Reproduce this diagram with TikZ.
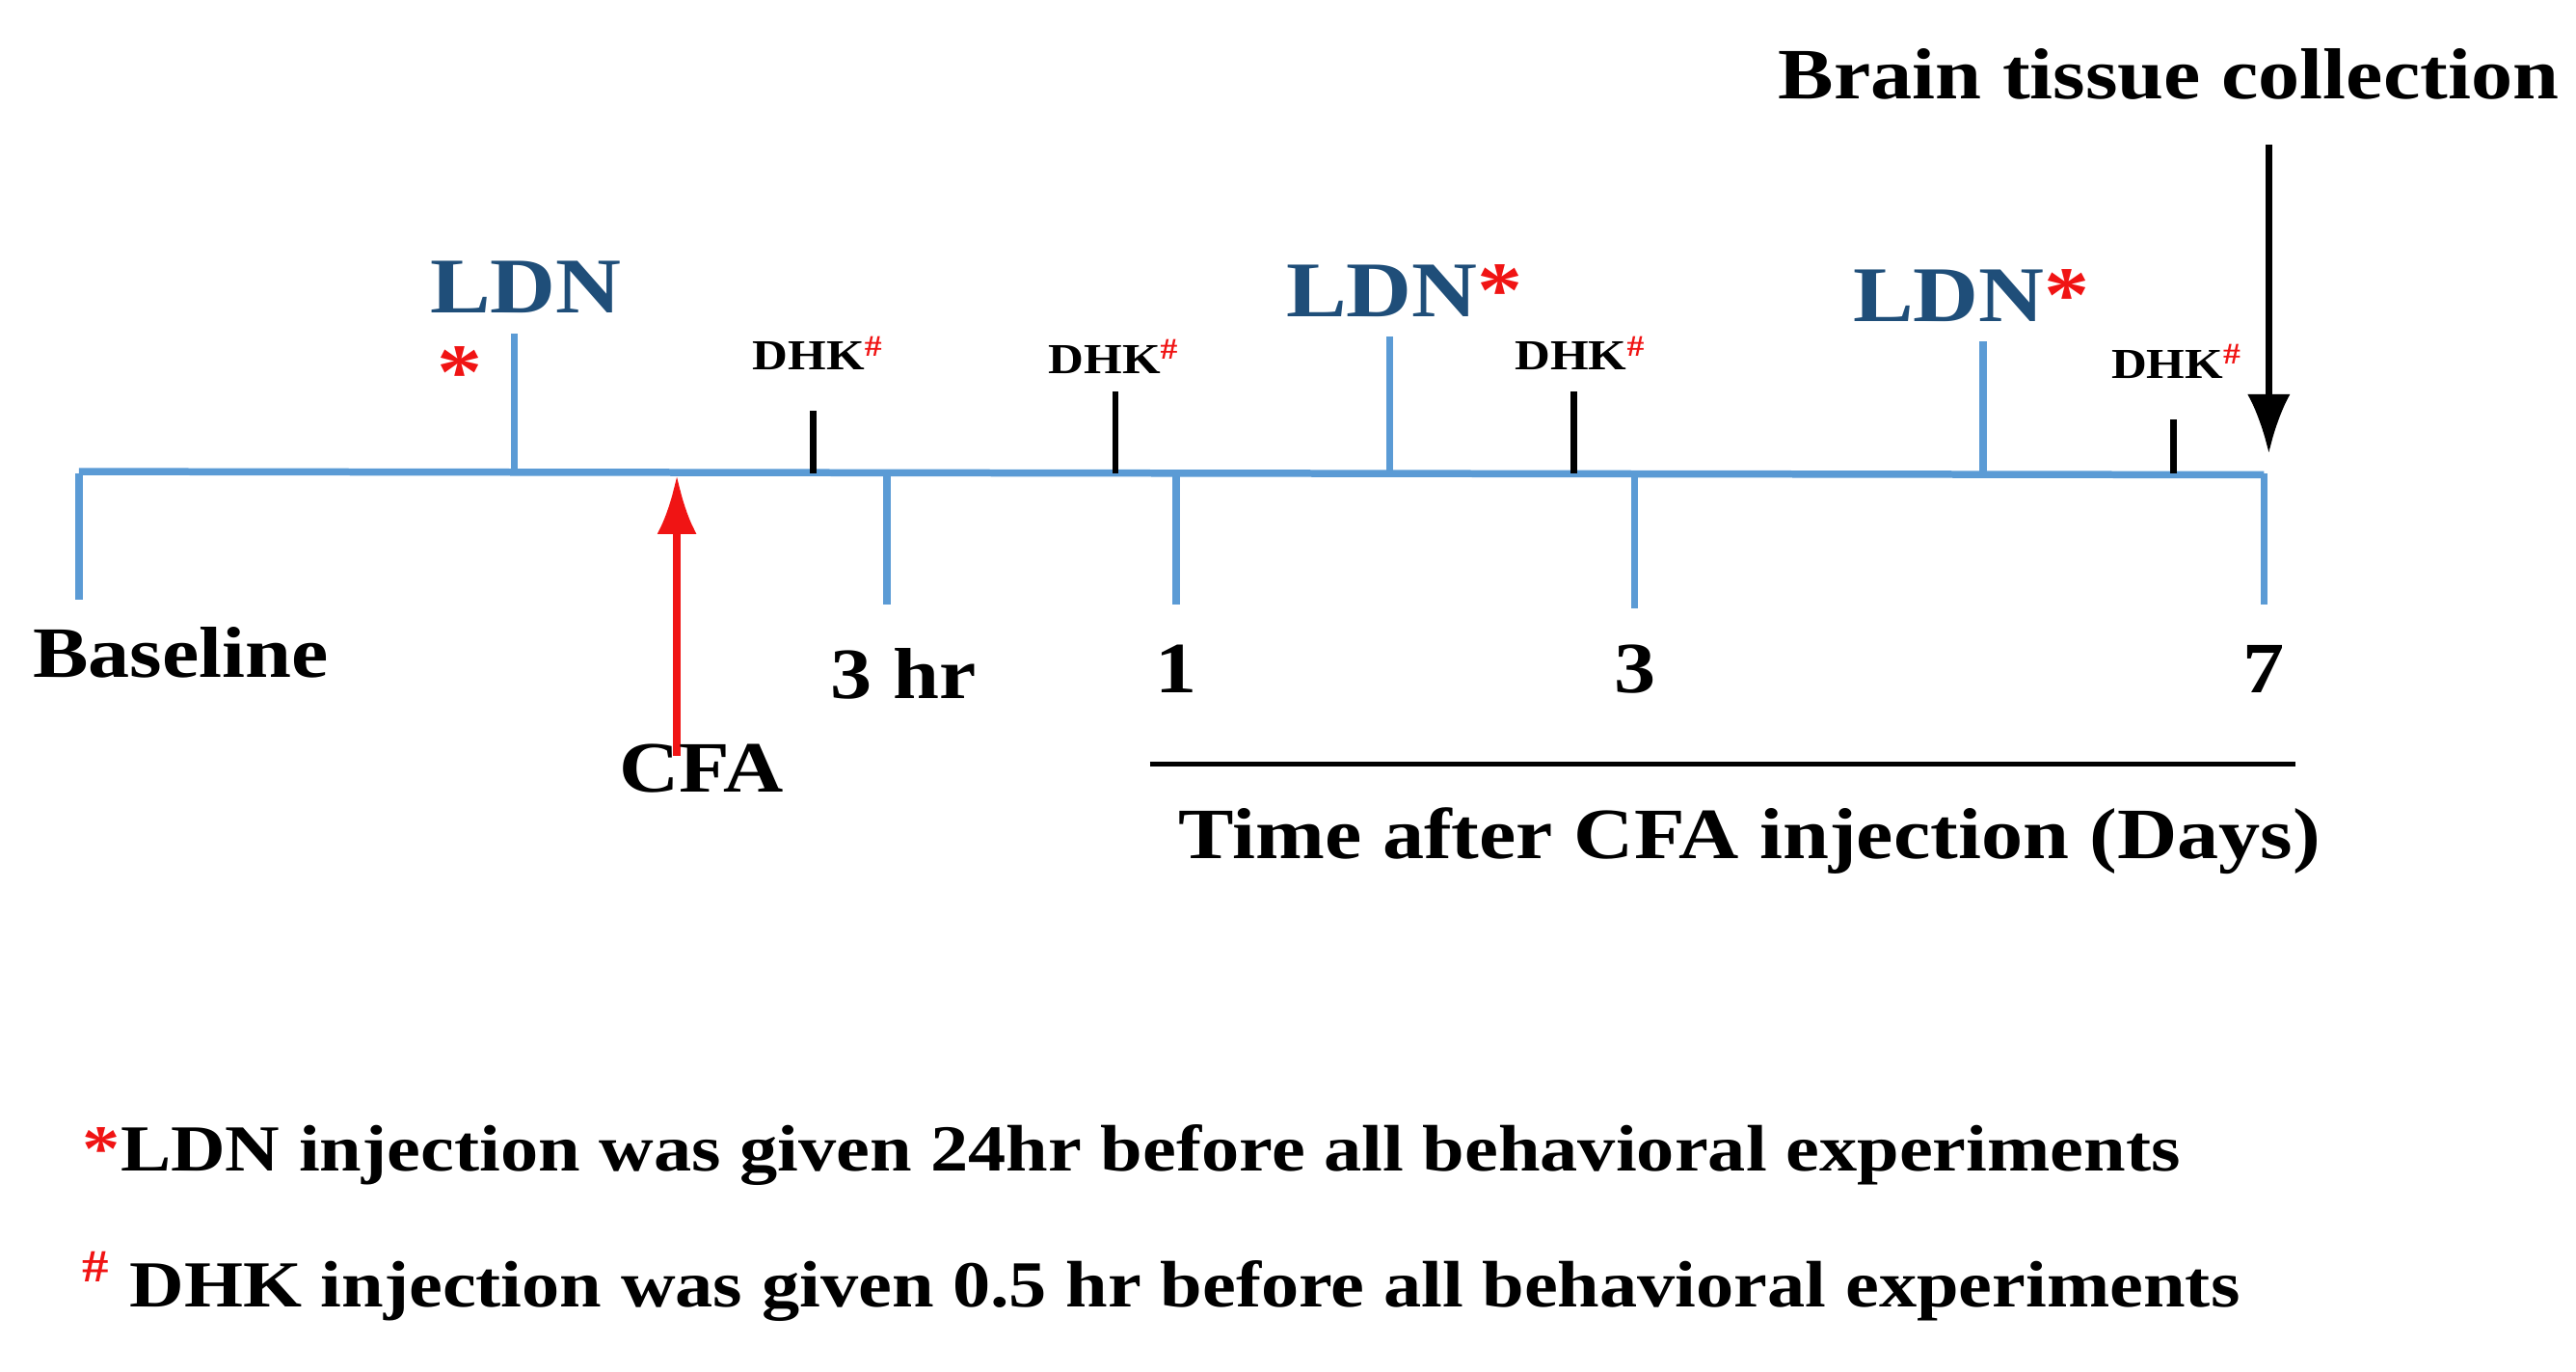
\documentclass[tikz,border=0pt]{standalone}
\usepackage{fontspec}
\usetikzlibrary{arrows.meta}
\setmainfont[FakeStretch=1.15]{Liberation Serif}
\definecolor{lblue}{RGB}{91,155,213}
\definecolor{dblue}{RGB}{31,78,121}
\definecolor{myred}{RGB}{240,20,20}
\begin{document}
\begin{tikzpicture}[x=0.5pt,y=-0.5pt,
  tl/.style={draw=lblue,line width=2.2pt},
  bk/.style={draw=black,line width=2pt},
  lab/.style={font=\bfseries\fontsize{22}{24}\selectfont,inner sep=0pt},
  ldn/.style={font=\bfseries\fontsize{24}{26}\selectfont,text=dblue,inner sep=0pt},
  dhk/.style={font=\bfseries\fontsize{13}{15}\selectfont,inner sep=0pt},
  foot/.style={font=\bfseries\fontsize{20}{22}\selectfont,inner sep=0pt,anchor=west}]
\useasboundingbox (0,0) rectangle (1568,835);
% timeline
\coordinate (L) at (48,287); \coordinate (R) at (1378,289);
\draw[tl] (L) -- (R);
\foreach \x/\y in {48/365,540/368,716/368,995/370,1378/368}{
  \draw[tl] (\x,288) -- (\x,\y);}
\foreach \x/\y in {313/203,846/205,1207/208}{
  \draw[tl] (\x,288) -- (\x,\y);}
\foreach \x/\y in {495/250,679/238,958/238,1323/255}{
  \draw[bk] (\x,288) -- (\x,\y);}
% arrows
\coordinate (cfaA) at (412,460); \coordinate (cfaB) at (412,289);
\draw[draw=myred,line width=2.5pt,-{Latex[length=18pt,width=12pt]}] (cfaA) -- (cfaB);
\coordinate (btA) at (1381,88); \coordinate (btB) at (1381,276);
\draw[bk,-{Latex[length=18pt,width=13pt]}] (btA) -- (btB);
% labels
\node[lab] (bt) at (1320,45) {Brain tissue collection};
\node[ldn] (l1) at (320,175) {LDN};
\node[ldn,text=myred] (s1) at (280,227) {*};
\node[ldn] (l2) at (855,177) {LDN\textcolor{myred}{*}};
\node[ldn] (l3) at (1200,180) {LDN\textcolor{myred}{*}};
\node[dhk] (d1) at (498,215) {DHK\textsuperscript{\textcolor{myred}{\#}}};
\node[dhk] (d2) at (678,217) {DHK\textsuperscript{\textcolor{myred}{\#}}};
\node[dhk] (d3) at (962,215) {DHK\textsuperscript{\textcolor{myred}{\#}}};
\node[dhk] (d4) at (1325,220) {DHK\textsuperscript{\textcolor{myred}{\#}}};
\node[lab] (b) at (110,397) {Baseline};
\node[lab] (h3) at (550,410) {3 hr};
\node[lab] (t1) at (716,407) {1};
\node[lab] (t3) at (995,407) {3};
\node[lab] (t7) at (1378,407) {7};
\node[lab] (cfa) at (427,468) {CFA};
\coordinate (u1) at (700,465); \coordinate (u2) at (1397,465);
\draw[black,line width=1.3pt] (u1) -- (u2);
\node[lab] (tx) at (1065,512) {Time after CFA injection (Days)};
\node[foot] (f1) at (50,703) {\textcolor{myred}{*}LDN injection was given 24hr before all behavioral experiments};
\node[foot] (f2) at (50,783) {\textsuperscript{\textcolor{myred}{\#}} DHK injection was given 0.5 hr before all behavioral experiments};
\end{tikzpicture}
\end{document}
